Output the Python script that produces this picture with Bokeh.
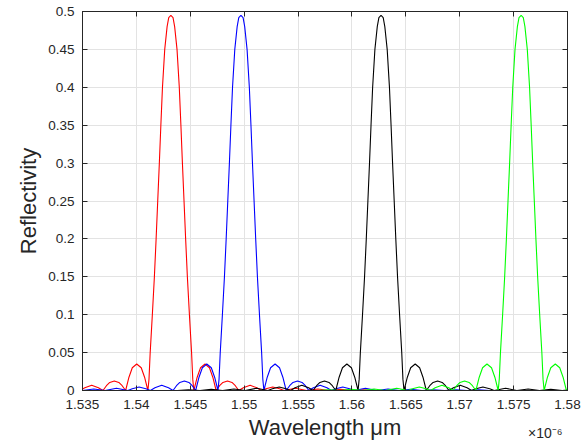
from bokeh.plotting import figure
from bokeh.models import Range1d, LinearAxis, FixedTicker, CustomJSTickFormatter, Title
from bokeh.embed import file_html
from bokeh.resources import INLINE

# ---- data (wavelength in units of 1e-6 m, reflectivity) ----
red_wl = [1.5350, 1.53522, 1.53585, 1.53648, 1.5369,
          1.53722, 1.53753, 1.53795, 1.53837, 1.53868, 1.5390,
          1.53931, 1.53962, 1.54003, 1.54045, 1.54076, 1.54107,
          1.54117, 1.54128, 1.54148, 1.54167, 1.54183, 1.54198, 1.54213, 1.54227, 1.54242, 1.54263, 1.54285, 1.5430,
          1.5432,
          1.5434, 1.54355, 1.54377, 1.54398, 1.54413, 1.54427, 1.54442, 1.54457, 1.54473, 1.54492, 1.54512, 1.54523, 1.54533,
          1.54564, 1.54595, 1.54637, 1.54678, 1.54709, 1.5474,
          1.54772, 1.54803, 1.54845, 1.54887, 1.54918, 1.5495,
          1.54992, 1.55055, 1.55118, 1.5516,
          1.55202, 1.55265, 1.55328, 1.5537,
          1.55475, 1.5558, 1.55685, 1.5579, 1.55895, 1.5600, 1.56105, 1.5621, 1.5800]
red_r = [0.002, 0.0035, 0.007, 0.0035, 0.0,
         0.0063, 0.0106, 0.0125, 0.0106, 0.0063, 0.0,
         0.0175, 0.030, 0.035, 0.030, 0.0175, 0.0,
         0.015, 0.05, 0.10, 0.15, 0.20, 0.25, 0.30, 0.35, 0.40, 0.45, 0.48, 0.492,
         0.495,
         0.492, 0.48, 0.45, 0.40, 0.35, 0.30, 0.25, 0.20, 0.15, 0.10, 0.05, 0.015, 0.0,
         0.0175, 0.030, 0.035, 0.030, 0.0175, 0.0,
         0.0063, 0.0106, 0.0125, 0.0106, 0.0063, 0.0,
         0.0035, 0.007, 0.0035, 0.0,
         0.0022, 0.0045, 0.0022, 0.0,
         0.003, 0.0, 0.002, 0.0, 0.0015, 0.0, 0.001, 0.0, 0.0]

blue_wl = [1.5350, 1.53605, 1.5371, 1.53815, 1.5392,
           1.53962, 1.54025, 1.54088, 1.5413,
           1.54172, 1.54235, 1.54298, 1.5434,
           1.54372, 1.54403, 1.54445, 1.54487, 1.54518, 1.5455,
           1.54581, 1.54612, 1.54653, 1.54695, 1.54726, 1.54757,
           1.54767, 1.54778, 1.54798, 1.54817, 1.54833, 1.54848, 1.54863, 1.54877, 1.54892, 1.54913, 1.54935, 1.5495,
           1.5497,
           1.5499, 1.55005, 1.55027, 1.55048, 1.55063, 1.55077, 1.55092, 1.55107, 1.55123, 1.55142, 1.55162, 1.55173, 1.55183,
           1.55214, 1.55245, 1.55287, 1.55328, 1.55359, 1.5539,
           1.55422, 1.55453, 1.55495, 1.55537, 1.55568, 1.5560,
           1.55642, 1.55705, 1.55768, 1.5581,
           1.55852, 1.55915, 1.55978, 1.5602,
           1.56125, 1.5623, 1.56335, 1.5644, 1.56545, 1.5665, 1.56755, 1.5686,
           1.56965, 1.5707, 1.57175, 1.5728, 1.5800]
blue_r = [0.0, 0.002, 0.0, 0.003, 0.0,
          0.0022, 0.0045, 0.0022, 0.0,
          0.0035, 0.007, 0.0035, 0.0,
          0.0063, 0.0106, 0.0125, 0.0106, 0.0063, 0.0,
          0.0175, 0.030, 0.035, 0.030, 0.0175, 0.0,
          0.015, 0.05, 0.10, 0.15, 0.20, 0.25, 0.30, 0.35, 0.40, 0.45, 0.48, 0.492,
          0.495,
          0.492, 0.48, 0.45, 0.40, 0.35, 0.30, 0.25, 0.20, 0.15, 0.10, 0.05, 0.015, 0.0,
          0.0175, 0.030, 0.035, 0.030, 0.0175, 0.0,
          0.0063, 0.0106, 0.0125, 0.0106, 0.0063, 0.0,
          0.0035, 0.007, 0.0035, 0.0,
          0.0022, 0.0045, 0.0022, 0.0,
          0.003, 0.0, 0.002, 0.0, 0.0015, 0.0, 0.001, 0.0,
          0.001, 0.0, 0.0008, 0.0, 0.0]

black_wl = [1.5350, 1.5438, 1.54485, 1.5459, 1.54695, 1.5480, 1.54905, 1.5501, 1.55115, 1.5522,
            1.55262, 1.55325, 1.55388, 1.5543,
            1.55472, 1.55535, 1.55598, 1.5564,
            1.55672, 1.55703, 1.55745, 1.55787, 1.55818, 1.5585,
            1.55881, 1.55912, 1.55953, 1.55995, 1.56026, 1.56057,
            1.56067, 1.56078, 1.56098, 1.56117, 1.56133, 1.56148, 1.56163, 1.56177, 1.56192, 1.56213, 1.56235, 1.5625,
            1.5627,
            1.5629, 1.56305, 1.56327, 1.56348, 1.56363, 1.56377, 1.56392, 1.56407, 1.56423, 1.56442, 1.56462, 1.56473, 1.56483,
            1.56514, 1.56545, 1.56587, 1.56628, 1.56659, 1.5669,
            1.56722, 1.56753, 1.56795, 1.56837, 1.56868, 1.5690,
            1.56942, 1.57005, 1.57068, 1.5711,
            1.57152, 1.57215, 1.57278, 1.5732,
            1.57425, 1.5753, 1.57635, 1.5774, 1.57845, 1.5795, 1.5800]
black_r = [0.0, 0.0, 0.001, 0.0, 0.0015, 0.0, 0.002, 0.0, 0.003, 0.0,
           0.0022, 0.0045, 0.0022, 0.0,
           0.0035, 0.007, 0.0035, 0.0,
           0.0063, 0.0106, 0.0125, 0.0106, 0.0063, 0.0,
           0.0175, 0.030, 0.035, 0.030, 0.0175, 0.0,
           0.015, 0.05, 0.10, 0.15, 0.20, 0.25, 0.30, 0.35, 0.40, 0.45, 0.48, 0.492,
           0.495,
           0.492, 0.48, 0.45, 0.40, 0.35, 0.30, 0.25, 0.20, 0.15, 0.10, 0.05, 0.015, 0.0,
           0.0175, 0.030, 0.035, 0.030, 0.0175, 0.0,
           0.0063, 0.0106, 0.0125, 0.0106, 0.0063, 0.0,
           0.0035, 0.007, 0.0035, 0.0,
           0.0022, 0.0045, 0.0022, 0.0,
           0.003, 0.0, 0.002, 0.0, 0.0015, 0.0, 0.0005]

green_wl = [1.5350, 1.5568, 1.55785, 1.5589, 1.55995, 1.5610, 1.56205, 1.5631, 1.56415, 1.5652,
            1.56562, 1.56625, 1.56688, 1.5673,
            1.56772, 1.56835, 1.56898, 1.5694,
            1.56972, 1.57003, 1.57045, 1.57087, 1.57118, 1.5715,
            1.57181, 1.57212, 1.57253, 1.57295, 1.57326, 1.57357,
            1.57367, 1.57378, 1.57398, 1.57417, 1.57433, 1.57448, 1.57463, 1.57477, 1.57492, 1.57513, 1.57535, 1.5755,
            1.5757,
            1.5759, 1.57605, 1.57627, 1.57648, 1.57663, 1.57677, 1.57692, 1.57707, 1.57723, 1.57742, 1.57762, 1.57773, 1.57783,
            1.57814, 1.57845, 1.57887, 1.57928, 1.57959, 1.5799, 1.5800]
green_r = [0.0, 0.0, 0.001, 0.0, 0.0015, 0.0, 0.002, 0.0, 0.003, 0.0,
           0.0022, 0.0045, 0.0022, 0.0,
           0.0035, 0.007, 0.0035, 0.0,
           0.0063, 0.0106, 0.0125, 0.0106, 0.0063, 0.0,
           0.0175, 0.030, 0.035, 0.030, 0.0175, 0.0,
           0.015, 0.05, 0.10, 0.15, 0.20, 0.25, 0.30, 0.35, 0.40, 0.45, 0.48, 0.492,
           0.495,
           0.492, 0.48, 0.45, 0.40, 0.35, 0.30, 0.25, 0.20, 0.15, 0.10, 0.05, 0.015, 0.0,
           0.0175, 0.030, 0.035, 0.030, 0.0175, 0.0, 0.002]

x_ticks = [1.535, 1.54, 1.545, 1.55, 1.555, 1.56, 1.565, 1.57, 1.575, 1.58]
x_tick_labels = ["1.535", "1.54", "1.545", "1.55", "1.555", "1.56", "1.565", "1.57", "1.575", "1.58"]
y_ticks = [0, 0.05, 0.1, 0.15, 0.2, 0.25, 0.3, 0.35, 0.4, 0.45, 0.5]
y_tick_labels = ["0", "0.05", "0.1", "0.15", "0.2", "0.25", "0.3", "0.35", "0.4", "0.45", "0.5"]
x_exponent = "×10⁻⁶"

FONT = "Liberation Sans"
AX = "#262626"

p = figure(width=584, height=444, output_backend="svg", toolbar_location=None,
           x_range=Range1d(1.535, 1.58), y_range=Range1d(0, 0.5),
           min_border_left=82, min_border_right=17, min_border_top=11, min_border_bottom=54,
           x_axis_location=None, y_axis_location=None)
p.outline_line_color = AX
p.outline_line_width = 1
p.background_fill_color = "white"
p.border_fill_color = "white"

def make_axis(ticks, labels, show_labels):
    ax = LinearAxis(ticker=FixedTicker(ticks=ticks))
    ax.axis_line_color = AX
    ax.major_tick_line_color = AX
    ax.major_tick_in = 5
    ax.major_tick_out = 0
    ax.minor_tick_in = 0
    ax.minor_tick_out = 0
    ax.minor_tick_line_color = None
    ax.major_label_text_font = FONT
    ax.major_label_text_color = AX
    ax.major_label_text_font_size = "13.5px"
    if show_labels:
        ax.formatter = CustomJSTickFormatter(args=dict(labels=labels), code="return labels[index];")
        ax.major_label_standoff = 9
    else:
        ax.formatter = CustomJSTickFormatter(code="return '';")
        ax.major_label_standoff = 0
    return ax

xb = make_axis(x_ticks, x_tick_labels, True)
xb.axis_label = "Wavelength μm"
xb.axis_label_text_font = FONT
xb.axis_label_text_font_size = "22px"
xb.axis_label_text_font_style = "normal"
xb.axis_label_text_color = AX
xb.axis_label_standoff = 3
p.add_layout(xb, "below")

yl = make_axis(y_ticks, y_tick_labels, True)
yl.axis_label = "Reflectivity"
yl.axis_label_text_font = FONT
yl.axis_label_text_font_size = "22px"
yl.axis_label_text_font_style = "normal"
yl.axis_label_text_color = AX
yl.axis_label_standoff = 4
yl.major_label_standoff = 8
p.add_layout(yl, "left")

p.add_layout(make_axis(x_ticks, x_tick_labels, False), "above")
p.add_layout(make_axis(y_ticks, y_tick_labels, False), "right")

p.xgrid.ticker = FixedTicker(ticks=x_ticks)
p.ygrid.ticker = FixedTicker(ticks=y_ticks)
for g in (p.xgrid, p.ygrid):
    g.grid_line_color = "#e3e3e3"
    g.grid_line_width = 1

p.line(red_wl, red_r, line_color="#ff0000", line_width=1.1)
p.line(blue_wl, blue_r, line_color="#0000ff", line_width=1.1)
p.line(black_wl, black_r, line_color="#000000", line_width=1.1)
p.line(green_wl, green_r, line_color="#00ff00", line_width=1.1)

# exponent note of the x axis (zero-height panel under the axis, pulled up by a negative standoff)
p.add_layout(Title(text=x_exponent, align="right", vertical_align="top", offset=5,
                   standoff=-36, text_font=FONT, text_font_size="14px",
                   text_font_style="normal", text_color=AX), "below")

open("out.html", "w").write(file_html(p, INLINE))
